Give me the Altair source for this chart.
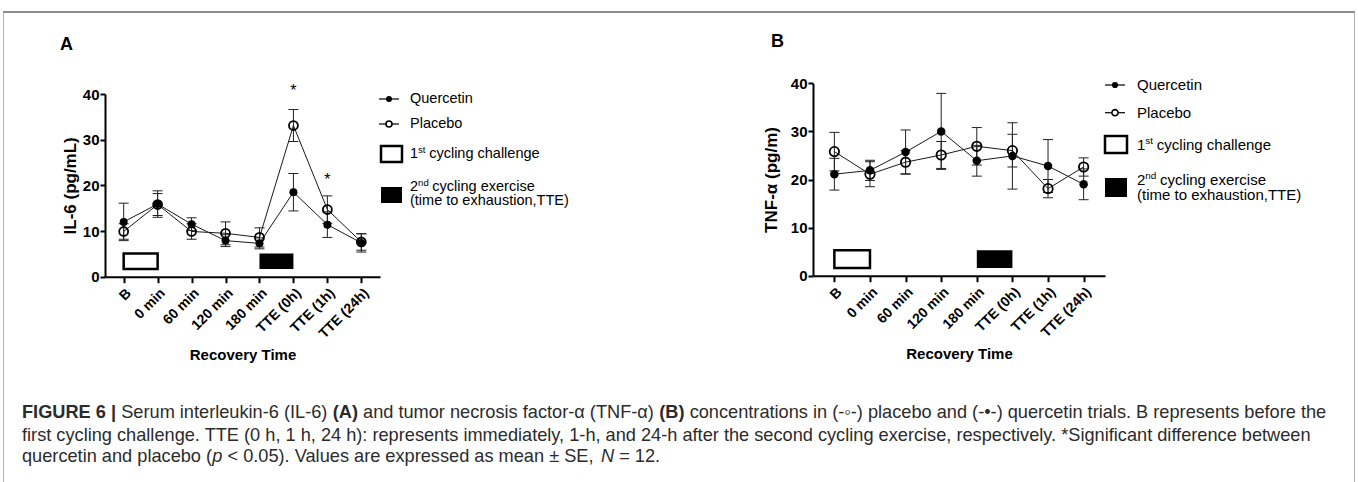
import json
import altair as alt
import pandas as pd

# ---------------- data ----------------
times = ["B", "0 min", "60 min", "120 min", "180 min", "TTE (0h)", "TTE (1h)", "TTE (24h)"]
series_names = ["Quercetin", "Placebo"]

il6_quercetin = [12.0, 15.9, 11.5, 7.9, 7.3, 18.5, 11.4, 7.4]
il6_quercetin_se = [4.1, 2.9, 1.4, 1.3, 1.2, 4.1, 2.8, 2.0]
il6_placebo = [9.9, 15.8, 9.9, 9.5, 8.6, 33.1, 14.7, 7.6]
il6_placebo_se = [1.7, 2.4, 1.7, 2.5, 2.1, 3.5, 3.0, 1.8]

tnf_quercetin = [21.1, 21.9, 25.7, 30.0, 23.9, 24.9, 22.8, 19.0]
tnf_quercetin_se = [3.3, 2.1, 4.6, 7.9, 3.2, 6.9, 5.5, 3.2]
tnf_placebo = [25.8, 21.1, 23.6, 25.1, 26.9, 26.0, 18.1, 22.6]
tnf_placebo_se = [4.0, 2.6, 2.4, 2.8, 3.9, 3.4, 1.9, 1.9]

exercise_periods = ["1st cycling challenge", "2nd cycling exercise"]
exercise_start = ["B", "180 min"]
exercise_end = ["0 min", "TTE (0h)"]
box_il6 = [1.7, 5.1]
box_tnf = [1.6, 5.3]

star_times = ["TTE (0h)", "TTE (1h)"]
star_il6 = [40.6, 21.2]

# ---------------- helpers ----------------
W, H = 1358, 482
FONT = "Liberation Sans"

AR = {' ': 278, '!': 278, '(': 333, ')': 333, '*': 389, '+': 584, ',': 278, '-': 333, '.': 278,
      '/': 278, ':': 278, ';': 278, '<': 584, '=': 584, '>': 584, '|': 260, '±': 584, 'α': 578,
      '•': 350, '◦': 354,
      'A': 667, 'B': 667, 'C': 722, 'D': 722, 'E': 667, 'F': 611, 'G': 778, 'H': 722, 'I': 278,
      'J': 500, 'K': 667, 'L': 556, 'M': 833, 'N': 722, 'O': 778, 'P': 667, 'Q': 778, 'R': 722,
      'S': 667, 'T': 611, 'U': 722, 'V': 667, 'W': 944, 'X': 667, 'Y': 667, 'Z': 611,
      'a': 556, 'b': 556, 'c': 500, 'd': 556, 'e': 556, 'f': 278, 'g': 556, 'h': 556, 'i': 222,
      'j': 222, 'k': 500, 'l': 222, 'm': 833, 'n': 556, 'o': 556, 'p': 556, 'q': 556, 'r': 333,
      's': 500, 't': 278, 'u': 556, 'v': 500, 'w': 722, 'x': 500, 'y': 500, 'z': 500}
AB = dict(AR)
AB.update({'|': 280, 'A': 722, 'B': 722, 'C': 722, 'D': 722, 'I': 278, 'J': 556, 'K': 722,
           'L': 611, 'R': 722, 'U': 722,
           'b': 611, 'd': 611, 'f': 333, 'g': 611, 'h': 611, 'i': 278, 'j': 278, 'k': 556,
           'l': 278, 'm': 889, 'n': 611, 'o': 611, 'p': 611, 'q': 611, 'r': 389, 's': 556,
           't': 333, 'u': 611, 'v': 556, 'w': 778, 'x': 556, 'y': 556, 'z': 500, 'c': 556})


def twidth(s, weight, size):
    table = AB if weight == "bold" else AR
    return sum(table.get(ch, 556) for ch in s) * size / 1000.0


one = alt.Chart(pd.DataFrame({"k": [0]}))


def label(text, x, y, size, weight="normal", style="normal", color="black", baseline="middle"):
    return one.mark_text(text=text, font=FONT, fontSize=size, fontWeight=weight, fontStyle=style,
                         color=color, align="left", baseline=baseline).encode(
        x=alt.value(x), y=alt.value(y))


def make_panel(q, qse, p, pse, ytitle, x_dom, x_rng, y_rng, box, ytitle_pad, stars=None, msize=64):
    rows = []
    for i, t in enumerate(times):
        for name, m, s in ((series_names[0], q[i], qse[i]), (series_names[1], p[i], pse[i])):
            rows.append({"t": i, "time": t, "series": name, "mean": m, "lo": m - s, "hi": m + s})
    df = pd.DataFrame(rows)

    x_scale = alt.Scale(domain=x_dom, range=x_rng, nice=False, zero=False)
    y_scale = alt.Scale(domain=[0, 40], range=y_rng, nice=False, zero=False)
    x_axis = alt.Axis(orient="bottom", offset=y_rng[0] - H, values=list(range(len(times))),
                      labelExpr=json.dumps(times) + "[datum.value]", labelAngle=-45,
                      labelAlign="right", labelBaseline="top", labelPadding=3,
                      labelFont=FONT, labelFontSize=14, labelFontWeight="bold", labelColor="black",
                      labelOverlap=False, tickSize=6, tickWidth=2, tickColor="black",
                      domainColor="black", domainWidth=2, grid=False,
                      titleFont=FONT, titleFontSize=15, titleFontWeight="bold", titleColor="black",
                      titlePadding=7)
    y_axis = alt.Axis(orient="left", offset=-x_rng[0], values=[0, 10, 20, 30, 40],
                      labelFont=FONT, labelFontSize=15, labelFontWeight="bold", labelColor="black",
                      labelPadding=1, tickSize=5, tickWidth=2, tickColor="black",
                      domainColor="black", domainWidth=2, grid=False,
                      titleFont=FONT, titleFontSize=17, titleFontWeight="bold", titleColor="black",
                      titlePadding=ytitle_pad)

    def X(f):
        return alt.X(f, type="quantitative", scale=x_scale, axis=x_axis, title="Recovery Time")

    def Y(f):
        return alt.Y(f, type="quantitative", scale=y_scale, axis=y_axis, title=ytitle)

    box_df = pd.DataFrame({"period": exercise_periods,
                           "start": [times.index(s) for s in exercise_start],
                           "end": [times.index(s) for s in exercise_end],
                           "lo": [box[0]] * 2, "hi": [box[1]] * 2})
    bbase = alt.Chart(box_df)
    box_open = bbase.transform_filter(alt.datum.period == exercise_periods[0]).mark_rect(
        fill="white", stroke="black", strokeWidth=2.5).encode(x=X("start"), x2="end", y=Y("lo"), y2="hi")
    box_fill = bbase.transform_filter(alt.datum.period == exercise_periods[1]).mark_rect(
        color="black").encode(x=X("start"), x2="end", y=Y("lo"), y2="hi")

    base = alt.Chart(df)
    err = base.mark_rule(color="#222", strokeWidth=1).encode(x=X("t"), y=Y("lo"), y2="hi")
    cap_lo = base.mark_tick(orient="horizontal", size=10, thickness=1, color="#222", opacity=1).encode(
        x=X("t"), y=Y("lo"))
    cap_hi = base.mark_tick(orient="horizontal", size=10, thickness=1, color="#222", opacity=1).encode(
        x=X("t"), y=Y("hi"))
    lines = base.mark_line(color="#1a1a1a", strokeWidth=1).encode(
        x=X("t"), y=Y("mean"), detail="series:N")
    pts_p = base.transform_filter(alt.datum.series == series_names[1]).mark_point(
        shape="circle", filled=False, color="black", size=msize + 16, strokeWidth=1.8, opacity=1).encode(
        x=X("t"), y=Y("mean"))
    pts_q = base.transform_filter(alt.datum.series == series_names[0]).mark_point(
        shape="circle", filled=True, color="black", size=msize, opacity=1).encode(
        x=X("t"), y=Y("mean"))
    layers = [box_open, box_fill, err, cap_lo, cap_hi, lines, pts_p, pts_q]
    if stars:
        sdf = pd.DataFrame({"t": [times.index(s) for s in stars[0]], "y": stars[1]})
        layers.append(alt.Chart(sdf).mark_text(text="*", font=FONT, fontSize=16, color="black",
                                               baseline="middle").encode(x=X("t"), y=Y("y")))
    return alt.layer(*layers)


def legend(lx0, lx1, tx, yq, yp, rx0, rx1, r1, t1, r2, t2a, t2b, fs, msize):
    cx = (lx0 + lx1) / 2
    sup = fs * 0.66
    w1 = twidth("1", "normal", fs)
    w2 = twidth("2", "normal", fs)
    L = [
        one.mark_rule(color="black", strokeWidth=1.2).encode(x=alt.value(lx0), x2=alt.value(lx1), y=alt.value(yq)),
        one.mark_point(shape="circle", filled=True, color="black", opacity=1, size=msize).encode(
            x=alt.value(cx), y=alt.value(yq)),
        one.mark_rule(color="black", strokeWidth=1.2).encode(x=alt.value(lx0), x2=alt.value(lx1), y=alt.value(yp)),
        one.mark_point(shape="circle", filled=True, color="white", opacity=1, size=msize).encode(
            x=alt.value(cx), y=alt.value(yp)),
        one.mark_point(shape="circle", filled=False, color="black", opacity=1, size=msize,
                       strokeWidth=1.6).encode(x=alt.value(cx), y=alt.value(yp)),
        one.mark_rect(fill="white", stroke="black", strokeWidth=2.5).encode(
            x=alt.value(rx0), x2=alt.value(rx1), y=alt.value(r1[0]), y2=alt.value(r1[1])),
        one.mark_rect(color="black").encode(
            x=alt.value(rx0), x2=alt.value(rx1), y=alt.value(r2[0]), y2=alt.value(r2[1])),
        label(series_names[0], tx, yq, fs),
        label(series_names[1], tx, yp, fs),
        label("1", tx, t1, fs),
        label("st", tx + w1, t1 - fs * 0.3, sup),
        label("cycling challenge", tx + w1 + twidth("st ", "normal", sup) + 1, t1, fs),
        label("2", tx, t2a, fs),
        label("nd", tx + w2, t2a - fs * 0.3, sup),
        label("cycling exercise", tx + w2 + twidth("nd ", "normal", sup) + 1, t2a, fs),
        label("(time to exhaustion,TTE)", tx, t2b, fs),
    ]
    return L


# ---------------- panels ----------------
panel_a = make_panel(il6_quercetin, il6_quercetin_se, il6_placebo, il6_placebo_se, "IL-6 (pg/mL)",
                     [-0.55, 7.55], [105, 380], [276.7, 94], box_il6, 3,
                     stars=(star_times, star_il6), msize=64)
panel_b = make_panel(tnf_quercetin, tnf_quercetin_se, tnf_placebo, tnf_placebo_se, "TNF-α (pg/m)",
                     [-0.6, 7.6], [813, 1105], [275.7, 83.3], box_tnf, 10, msize=72)

legend_a = legend(379, 399, 410, 99, 124, 381, 402, (146, 162), 154, (187, 203), 187, 201, 14.5, 36)
legend_b = legend(1105, 1125, 1137, 85, 112.7, 1105, 1127, (136, 153), 145, (178, 197), 180, 195, 15, 38)

# ---------------- frame & letters ----------------
frame = [
    one.mark_rule(color="#8c8c8c", strokeWidth=2).encode(x=alt.value(3), x2=alt.value(1355), y=alt.value(12)),
    one.mark_rule(color="#b0b0b0", strokeWidth=1).encode(x=alt.value(3.5), y=alt.value(12), y2=alt.value(H)),
    one.mark_rule(color="#b0b0b0", strokeWidth=1).encode(x=alt.value(1354.5), y=alt.value(12), y2=alt.value(H)),
    label("A", 60, 50, 18, weight="bold", baseline="alphabetic"),
    label("B", 771, 47, 18, weight="bold", baseline="alphabetic"),
]

# ---------------- caption ----------------
cap_lines = [
    [("FIGURE 6 |", "bold", "normal", 0), ("Serum interleukin-6 (IL-6)", "normal", "normal", 1),
     ("(A)", "bold", "normal", 1), ("and tumor necrosis factor-α (TNF-α)", "normal", "normal", 1),
     ("(B)", "bold", "normal", 1),
     ("concentrations in (-◦-) placebo and (-•-) quercetin trials. B represents before the", "normal", "normal", 1)],
    [("first cycling challenge. TTE (0 h, 1 h, 24 h): represents immediately, 1-h, and 24-h after the second "
      "cycling exercise, respectively. *Significant difference between", "normal", "normal", 0)],
    [("quercetin and placebo (", "normal", "normal", 0), ("p", "normal", "italic", 0),
     ("< 0.05). Values are expressed as mean ± SE,", "normal", "normal", 1), ("N", "normal", "italic", 1),
     ("= 12.", "normal", "normal", 1)],
]
line1_em = sum(twidth(s, w, 1000) / 1000 + g * twidth(" ", w, 1000) / 1000 for s, w, st, g in cap_lines[0])
cap_size = round(1305 / line1_em, 2)
cap_x0 = 22
cap_baselines = [418, 441, 462]
caption = []
for segs, yb in zip(cap_lines, cap_baselines):
    x = cap_x0
    for s, w, st, g in segs:
        x += g * twidth(" ", w, cap_size)
        caption.append(label(s, x, yb, cap_size, weight=w, style=st, color="#2b2b2b", baseline="alphabetic"))
        x += twidth(s, w, cap_size)

chart = alt.layer(*frame, panel_a, panel_b, *legend_a, *legend_b, *caption).resolve_scale(
    x="independent", y="independent"
).properties(
    width=W, height=H, autosize=alt.AutoSizeParams(type="none"), padding=0
).configure_view(strokeWidth=0)

chart.save("out.html", embed_options={"renderer": "svg", "actions": False})
